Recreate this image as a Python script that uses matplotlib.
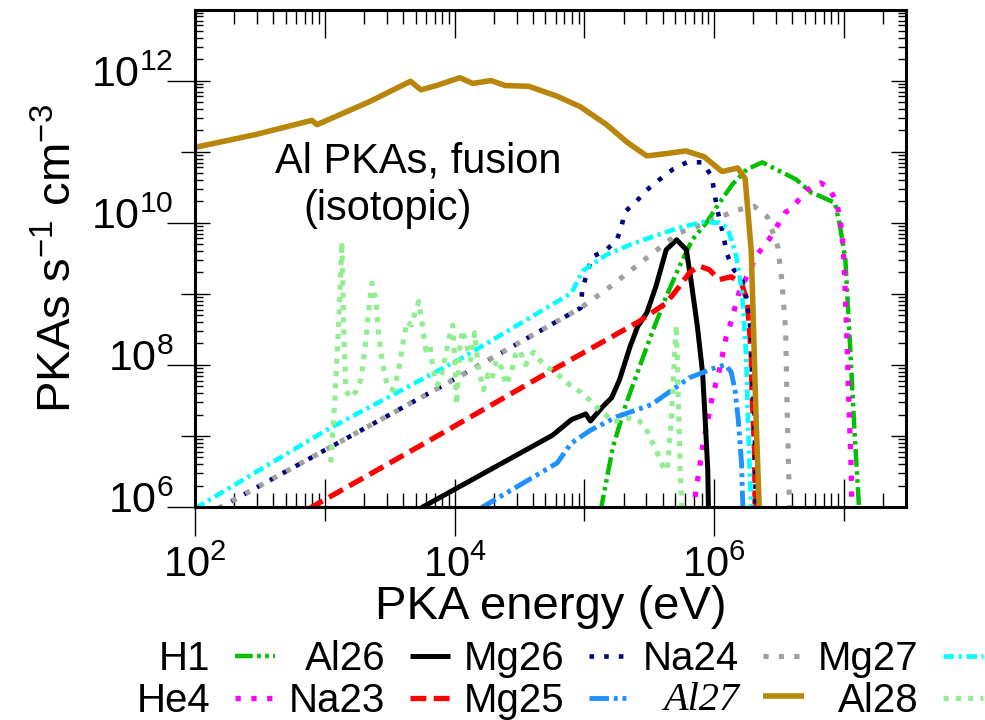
import numpy as np
import matplotlib
matplotlib.use('Agg')
import matplotlib.pyplot as plt
from matplotlib.ticker import FixedLocator, NullFormatter, LogLocator
from matplotlib.transforms import ScaledTranslation, blended_transform_factory

plt.rcParams['font.family'] = ['Liberation Sans', 'DejaVu Sans']
plt.rcParams['mathtext.fontset'] = 'custom'
plt.rcParams['mathtext.rm'] = 'Liberation Sans'
plt.rcParams['mathtext.default'] = 'regular'

# log10(PKA energy / eV) and log10(PKAs s^-1 cm^-3)
h1_loge = [5.115, 5.13, 5.22, 5.32, 5.42, 5.52, 5.63, 5.73, 5.83, 5.94, 6.04, 6.14, 6.25, 6.37,
           6.50, 6.63, 6.75, 6.82, 6.93, 6.97, 7.01, 7.04, 7.08, 7.115, 7.12]
h1_logf = [5.93, 6.0, 6.85, 7.45, 7.95, 8.45, 8.96, 9.38, 9.76, 10.0, 10.28, 10.54, 10.75, 10.85,
           10.73, 10.61, 10.42, 10.37, 10.28, 9.94, 9.48, 8.49, 7.08, 6.0, 5.8]

he4_loge = [5.82, 5.84, 5.915, 5.985, 6.04, 6.09, 6.13, 6.19, 6.33, 6.42, 6.55, 6.585, 6.715, 6.82,
            6.885, 6.945, 6.985, 7.0, 7.02, 7.04, 7.055, 7.06, 7.07]
he4_logf = [5.93, 6.0, 6.90, 7.55, 7.93, 8.38, 8.61, 9.01, 9.55, 9.76, 10.15, 10.18, 10.46, 10.56,
            10.49, 10.28, 9.86, 9.44, 8.49, 7.32, 6.52, 6.0, 5.8]

al26_loge = [3.73, 3.754, 4.754, 4.90, 5.01, 5.046, 5.14, 5.21, 5.27, 5.35, 5.41, 5.48, 5.55, 5.63,
             5.71, 5.785, 5.82, 5.87, 5.91, 5.93, 5.95, 5.955, 5.96]
al26_logf = [5.96, 6.0, 7.01, 7.23, 7.31, 7.21, 7.41, 7.54, 7.79, 8.25, 8.54, 8.73, 9.10, 9.62,
             9.76, 9.62, 9.20, 8.54, 7.89, 7.23, 6.52, 6.0, 5.8]

na23_loge = [2.885, 2.90, 3.8, 4.65, 5.42, 5.63, 5.73, 5.81, 5.885, 5.96, 6.04, 6.13, 6.21, 6.25,
             6.27, 6.285, 6.29, 6.31, 6.315, 6.32]
na23_logf = [5.96, 6.0, 6.93, 7.82, 8.61, 8.87, 9.10, 9.30, 9.39, 9.34, 9.20, 9.24, 9.15, 8.92,
             8.54, 8.11, 7.65, 6.8, 6.0, 5.8]

mg26_loge = [2.18, 2.2, 3.0, 4.0, 4.97, 4.985, 5.06, 5.17, 5.25, 5.285, 5.31, 5.40, 5.48, 5.58,
             5.68, 5.79, 5.91, 5.98, 6.0, 6.02, 6.06, 6.10, 6.15, 6.215, 6.25, 6.27, 6.285, 6.29,
             6.31, 6.32, 6.33]
mg26_logf = [5.98, 6.0, 6.8, 7.8, 8.8, 9.08, 9.52, 9.62, 9.76, 9.94, 10.15, 10.30, 10.46, 10.61,
             10.75, 10.85, 10.85, 10.65, 10.44, 10.21, 9.90, 9.55, 9.34, 9.20, 8.92, 8.68, 8.35, 7.89,
             7.32, 6.0, 5.8]

mg25_loge = [4.19, 4.215, 4.79, 4.90, 5.046, 5.25, 5.515, 5.81, 6.02, 6.085, 6.13, 6.16, 6.185,
             6.21, 6.22, 6.23]
mg25_logf = [5.96, 6.0, 6.62, 6.90, 7.08, 7.27, 7.44, 7.82, 7.97, 8.0, 7.90, 7.65, 7.23, 6.62,
             6.0, 5.8]

na24_loge = [2.18, 2.2, 3.0, 4.0, 4.97, 5.17, 5.42, 5.73, 5.84, 6.18, 6.31, 6.41, 6.49, 6.52,
             6.55, 6.56, 6.58, 6.585]
na24_logf = [5.98, 6.0, 6.8, 7.8, 8.8, 9.06, 9.42, 9.86, 9.93, 10.18, 10.23, 10.08, 9.66, 9.20,
             8.49, 7.5, 6.0, 5.8]

al27_loge = [2.0, 2.465, 2.90, 2.94, 3.34, 3.66, 3.74, 3.86, 4.04, 4.14, 4.28, 4.39, 4.57, 4.79,
             4.97, 5.17, 5.33, 5.48, 5.62, 5.78, 5.92, 6.06, 6.18, 6.238, 6.285, 6.323, 6.346, 6.354]
al27_logf = [11.06, 11.24, 11.44, 11.38, 11.70, 11.99, 11.87, 11.93, 12.04, 11.96, 12.00, 11.93,
             11.92, 11.78, 11.63, 11.38, 11.13, 10.94, 10.97, 11.01, 10.93, 10.72, 10.77, 10.62,
             9.6, 7.2, 6.0, 5.8]

mg27_loge = [2.0, 3.01, 4.06, 4.90, 4.985, 5.17, 5.35, 5.52, 5.73, 5.91, 6.04, 6.10, 6.14, 6.17,
             6.19, 6.215, 6.23, 6.246, 6.255, 6.27, 6.285, 6.29]
mg27_logf = [5.98, 7.08, 8.10, 9.01, 9.32, 9.55, 9.69, 9.80, 9.93, 10.01, 10.0, 9.93, 9.72, 9.52,
             9.30, 9.01, 8.59, 8.11, 7.51, 6.66, 6.0, 5.8]

al28_loge = [3.046, 3.077, 3.108, 3.131, 3.146, 3.162, 3.192, 3.238, 3.277, 3.308, 3.338, 3.362,
             3.392, 3.415, 3.446, 3.485, 3.523, 3.562, 3.60, 3.631, 3.669, 3.70, 3.723, 3.746,
             3.777, 3.808, 3.838, 3.869, 3.90, 3.931, 3.962, 3.985, 4.0, 4.015, 4.038, 4.062,
             4.092, 4.123, 4.154, 4.185, 4.223, 4.254, 4.285, 4.323, 4.362, 4.392, 4.431, 4.469,
             4.50, 4.546, 4.577, 4.608, 4.654, 4.715, 4.769, 4.823, 4.885, 4.969, 5.038, 5.10,
             5.162, 5.223, 5.285, 5.346, 5.408, 5.462, 5.515, 5.569, 5.608, 5.638, 5.669, 5.692,
             5.708, 5.723, 5.738, 5.754]
al28_logf = [6.63, 7.51, 8.63, 9.73, 8.49, 7.65, 7.54, 7.62, 7.79, 8.21, 8.77, 9.15,
             8.92, 8.42, 8.0, 7.68, 7.65, 7.86, 8.28, 8.61, 8.56, 8.77, 8.89, 8.63,
             8.21, 8.28, 7.90, 7.72, 7.86, 8.14, 8.42, 8.56, 8.07, 7.44, 8.21, 8.49,
             8.28, 8.07, 8.45, 7.93, 7.65, 7.86, 7.79, 8.07, 7.96, 7.72, 7.86, 8.14,
             8.21, 8.0, 8.10, 8.18, 8.07, 7.97, 7.90, 7.82, 7.72, 7.62, 7.51, 7.39,
             7.30, 7.20, 7.23, 7.25, 7.23, 7.15, 6.94, 6.73, 6.55, 6.52, 7.23, 8.07,
             8.56, 7.51, 6.52, 5.89]

x_label_ticks = [1e2, 1e4, 1e6]
x_other_ticks = [1e3, 1e5, 1e7]
y_label_ticks = [1e6, 1e8, 1e10, 1e12]
y_other_ticks = [1e7, 1e9, 1e11]

# name, data, colour, width (pt), dash pattern (None = solid)
series = [
    ('H1', h1_loge, h1_logf, '#00c000', 3.2, (4, 1, 0.8, 1, 0.8, 1)),
    ('He4', he4_loge, he4_logf, '#ff00ff', 3.8, (1, 2.0)),
    ('Al26', al26_loge, al26_logf, 'black', 3.6, None),
    ('Na23', na23_loge, na23_logf, '#ff0000', 3.8, (3, 1.4)),
    ('Mg26', mg26_loge, mg26_logf, '#000080', 3.3, (1, 2.2)),
    ('Mg25', mg25_loge, mg25_logf, '#1e90ff', 3.5, (4, 1, 0.8, 1, 0.8, 1)),
    ('Na24', na24_loge, na24_logf, '#a0a0a0', 3.7, (1, 2.0)),
    ('Al27', al27_loge, al27_logf, '#b8860b', 4.0, None),
    ('Mg27', mg27_loge, mg27_logf, '#00ffff', 3.3, (2.3, 1, 0.7, 1)),
    ('Al28', al28_loge, al28_logf, '#90ee90', 3.7, (1, 1.4)),
]

fig = plt.figure(figsize=(9.85, 7.2), dpi=100)
ax = fig.add_axes([0.198, 0.2958, 0.7218, 0.691])

handles = []
for name, le, lf, color, lw, dash in series:
    ls = '-' if dash is None else (0, dash)
    ln, = ax.plot(10 ** np.array(le), 10 ** np.array(lf), color=color, lw=lw, ls=ls,
                  dash_capstyle='butt', solid_capstyle='butt', label=name)
    handles.append(ln)

ax.set_xscale('log')
ax.set_yscale('log')
ax.set_xlim(1e2, 3e7)
ax.set_ylim(1e6, 1e13)

for axis in (ax.xaxis, ax.yaxis):
    axis.set_major_locator(LogLocator(base=10, numticks=20))
    axis.set_minor_locator(LogLocator(base=10, subs=np.arange(2, 10), numticks=20))
    axis.set_minor_formatter(NullFormatter())
ax.tick_params(axis='x', which='major', direction='in', length=20, width=1, top=True,
               labelbottom=False)
ax.tick_params(axis='x', which='minor', direction='in', length=10, width=1, top=True)
ax.tick_params(axis='y', which='major', direction='in', length=10.5, width=1, right=True,
               labelleft=False)
ax.tick_params(axis='y', which='minor', direction='in', length=5.8, width=1, right=True)
for sp in ax.spines.values():
    sp.set_linewidth(2.2)

# outward ticks (long ones carry the labels)
sx = ax.secondary_xaxis('bottom')
sx.set_xticks(x_label_ticks, labels=[r'$10^{2}$', r'$10^{4}$', r'$10^{6}$'])
sx.xaxis.set_minor_locator(FixedLocator(x_other_ticks))
sx.xaxis.set_minor_formatter(NullFormatter())
sx.tick_params(which='major', direction='out', length=21, width=1, pad=7, labelsize=30)
sx.tick_params(which='minor', direction='out', length=10, width=1)
sx.spines['bottom'].set_visible(False)

sy = ax.secondary_yaxis('left')
sy.set_yticks(y_label_ticks, labels=[''] * len(y_label_ticks))
sy.yaxis.set_minor_locator(FixedLocator(y_other_ticks))
sy.yaxis.set_minor_formatter(NullFormatter())
sy.tick_params(which='major', direction='out', length=20, width=1)
sy.tick_params(which='minor', direction='out', length=10, width=1)
sy.spines['left'].set_visible(False)

# y tick labels sit slightly above their ticks, as gnuplot sets them
ytrans = blended_transform_factory(ax.transAxes, ax.transData) + \
    ScaledTranslation(0, -6 / 100, fig.dpi_scale_trans)
for v in y_label_ticks:
    ax.text(-0.030, v, r'$10^{%d}$' % round(np.log10(v)), transform=ytrans,
            ha='right', va='baseline', fontsize=31)

ax.set_xlabel('PKA energy (eV)', fontsize=34)
ax.xaxis.set_label_coords(0.5, -0.156)
ax.set_ylabel(r'PKAs s$^{-1}$ cm$^{-3}$', fontsize=34)
ax.yaxis.set_label_coords(-0.160, 0.5)

ax.text(0.1125, 0.672, 'Al PKAs, fusion', transform=ax.transAxes, fontsize=30, va='baseline')
ax.text(0.152, 0.5775, '(isotopic)', transform=ax.transAxes, fontsize=30, va='baseline')

leg = ax.legend(handles=handles, ncol=5, markerfirst=False, frameon=False, fontsize=29,
                loc='upper left', bbox_to_anchor=(0.139, 0.1110),
                bbox_transform=fig.transFigure, borderpad=0, borderaxespad=0,
                handlelength=1.0, handletextpad=0.6, columnspacing=0.35, labelspacing=0.1)
al27_text = leg.get_texts()[7]
al27_text.set_family(['Liberation Serif', 'DejaVu Serif'])
al27_text.set_style('italic')

fig.savefig('out.png', dpi=100)
